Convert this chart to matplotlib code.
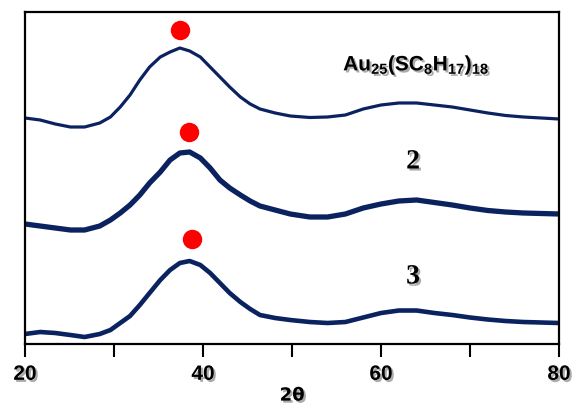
import matplotlib
matplotlib.use("Agg")
import matplotlib.pyplot as plt
import matplotlib.patheffects as pe

# 2theta positions
two_theta = [20.0, 21.7, 23.4, 25.1, 26.7, 28.4, 29.6, 30.7, 31.8, 32.9,
             34.0, 35.2, 36.3, 37.4, 38.5, 39.7, 40.8, 41.9, 43.0, 44.2,
             45.3, 46.4, 48.1, 49.8, 52, 54, 56, 58, 60, 62,
             64, 66, 68, 70, 72, 74, 76, 78, 80]

# stacked intensities (a.u.), offsets already included
au25 = [226, 224, 220, 217, 217, 221, 227, 237, 249, 264,
        277, 287, 292, 296, 293, 287, 277, 267, 257, 247,
        240, 235, 231, 228, 226.5, 227, 229, 235, 239, 241,
        241, 239, 237, 234, 231, 228.5, 227, 226, 225]
sample2 = [120, 118, 116, 114, 114, 118, 124, 131, 139, 149,
           161, 172, 184, 191, 192, 186, 176, 164, 156, 149,
           143, 138, 134, 130, 127, 127, 130, 136, 140, 143,
           144, 141.5, 139, 136, 133.5, 132, 131, 130.5, 130]
sample3 = [10, 12, 11, 9, 7, 10, 14, 21, 28, 39,
           51, 64, 74, 81, 83, 79, 71, 61, 51, 42,
           35, 29, 26, 24, 22, 21, 22, 26.5, 31, 33.5,
           33.5, 31, 29, 26.5, 24.5, 23, 22, 21.5, 21]

# peak markers
peak_x = [37.4, 38.4, 38.8]
peak_y = [314, 212, 105]

labels = ["Au$_{\\mathbf{25}}$(SC$_{\\mathbf{8}}$H$_{\\mathbf{17}}$)$_{\\mathbf{18}}$", "2", "3"]
label_x = [64.0, 63.6, 63.6]
label_y = [279, 182, 67]

plt.rcParams['mathtext.fontset'] = 'custom'
plt.rcParams['mathtext.bf'] = 'Liberation Sans:bold'
plt.rcParams['mathtext.rm'] = 'Liberation Sans:bold'

shadow = [pe.withSimplePatchShadow(offset=(1.5, -1.5), shadow_rgbFace='0.45', alpha=0.6)]
navy = '#0b2260'

fig = plt.figure(figsize=(5.72, 4.05), dpi=100)
ax = fig.add_axes([0.0437, 0.1506, 0.9336, 0.8198])

ax.plot(two_theta, au25, color=navy, lw=2.3, solid_joinstyle='round')
ax.plot(two_theta, sample2, color=navy, lw=3.8, solid_joinstyle='round')
ax.plot(two_theta, sample3, color=navy, lw=3.3, solid_joinstyle='round')
ax.plot(peak_x, peak_y, 'o', color='#ff0000', ms=14, mec='none')

ax.text(label_x[0], label_y[0], labels[0], ha='center', va='center',
        fontsize=15, fontweight='bold', family='Liberation Sans', path_effects=shadow)
for i in (1, 2):
    ax.text(label_x[i], label_y[i], labels[i], ha='center', va='center',
            fontsize=20, fontweight='bold', family='Liberation Serif', path_effects=shadow)

ax.set_xlim(20, 80)
ax.set_ylim(0, 332)
ax.set_yticks([])
ax.set_xticks([20, 30, 40, 50, 60, 70, 80])
ax.set_xticklabels(['20', '', '40', '', '60', '', '80'])
ax.tick_params(axis='x', direction='out', length=9, width=1.5, pad=6)
for lab in ax.get_xticklabels():
    lab.set_fontsize(15)
    lab.set_fontweight('bold')
    lab.set_family('Liberation Sans')
    lab.set_path_effects(shadow)
for s in ax.spines.values():
    s.set_linewidth(1.6)

ax.set_xlabel('2θ', fontsize=13, fontweight='bold', family='DejaVu Sans', labelpad=2,
              path_effects=shadow)

fig.savefig('out.png', dpi=100)
